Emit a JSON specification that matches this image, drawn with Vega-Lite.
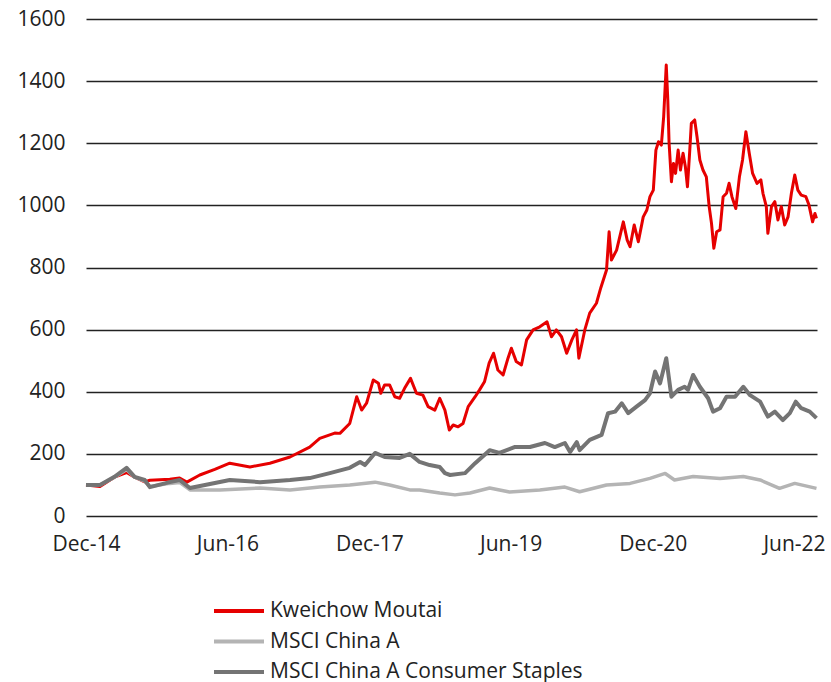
{
  "$schema": "https://vega.github.io/schema/vega-lite/v6.json",
  "width": 731,
  "height": 497,
  "autosize": {"type": "none"},
  "padding": {"left": 86, "top": 19, "right": 14, "bottom": 166},
  "background": "white",
  "config": {
    "view": {"stroke": null},
    "font": "Open Sans",
    "axis": {"labelFont": "Open Sans", "labelFontSize": 21, "labelColor": "#222222", "domain": false, "ticks": false, "tickSize": 0, "title": null},
    "legend": {"labelFont": "Open Sans"}
  },
  "datasets": {
    "moutai": [
      {"date": "2014-12-31", "value": 100}, {"date": "2015-02-23", "value": 95}, {"date": "2015-04-20", "value": 125},
      {"date": "2015-06-06", "value": 140}, {"date": "2015-07-07", "value": 125}, {"date": "2015-08-15", "value": 110},
      {"date": "2015-09-04", "value": 115}, {"date": "2015-11-20", "value": 118}, {"date": "2015-12-28", "value": 122},
      {"date": "2016-01-25", "value": 109}, {"date": "2016-03-15", "value": 132}, {"date": "2016-05-12", "value": 150},
      {"date": "2016-07-09", "value": 170}, {"date": "2016-09-25", "value": 158}, {"date": "2016-12-11", "value": 170},
      {"date": "2017-02-27", "value": 190}, {"date": "2017-05-14", "value": 222}, {"date": "2017-06-22", "value": 250},
      {"date": "2017-08-19", "value": 267}, {"date": "2017-09-08", "value": 266}, {"date": "2017-10-16", "value": 298},
      {"date": "2017-11-12", "value": 384}, {"date": "2017-12-01", "value": 341}, {"date": "2017-12-20", "value": 363},
      {"date": "2018-01-15", "value": 438}, {"date": "2018-02-04", "value": 427}, {"date": "2018-02-13", "value": 395},
      {"date": "2018-02-28", "value": 422}, {"date": "2018-03-19", "value": 422}, {"date": "2018-04-08", "value": 384},
      {"date": "2018-04-27", "value": 379}, {"date": "2018-05-16", "value": 411}, {"date": "2018-06-08", "value": 443},
      {"date": "2018-07-01", "value": 395}, {"date": "2018-07-26", "value": 389}, {"date": "2018-08-15", "value": 352},
      {"date": "2018-09-10", "value": 341}, {"date": "2018-09-29", "value": 379}, {"date": "2018-10-19", "value": 341},
      {"date": "2018-11-05", "value": 277}, {"date": "2018-11-20", "value": 293}, {"date": "2018-12-09", "value": 287},
      {"date": "2018-12-28", "value": 298}, {"date": "2019-01-17", "value": 352}, {"date": "2019-02-13", "value": 384},
      {"date": "2019-03-02", "value": 406}, {"date": "2019-03-21", "value": 432}, {"date": "2019-04-08", "value": 492},
      {"date": "2019-04-25", "value": 524}, {"date": "2019-05-12", "value": 470}, {"date": "2019-06-01", "value": 454},
      {"date": "2019-06-20", "value": 508}, {"date": "2019-07-03", "value": 540}, {"date": "2019-07-22", "value": 497},
      {"date": "2019-08-11", "value": 486}, {"date": "2019-08-31", "value": 567}, {"date": "2019-09-25", "value": 599},
      {"date": "2019-10-21", "value": 609}, {"date": "2019-11-18", "value": 625}, {"date": "2019-12-05", "value": 577},
      {"date": "2019-12-24", "value": 599}, {"date": "2020-01-13", "value": 577}, {"date": "2020-02-02", "value": 524},
      {"date": "2020-02-22", "value": 567}, {"date": "2020-03-11", "value": 599}, {"date": "2020-03-20", "value": 508},
      {"date": "2020-04-12", "value": 599}, {"date": "2020-05-01", "value": 653}, {"date": "2020-05-27", "value": 685},
      {"date": "2020-06-13", "value": 735}, {"date": "2020-07-05", "value": 792}, {"date": "2020-07-15", "value": 915},
      {"date": "2020-07-24", "value": 824}, {"date": "2020-08-13", "value": 856}, {"date": "2020-09-08", "value": 947},
      {"date": "2020-09-23", "value": 888}, {"date": "2020-10-04", "value": 867}, {"date": "2020-10-20", "value": 937},
      {"date": "2020-11-05", "value": 883}, {"date": "2020-11-24", "value": 963}, {"date": "2020-12-08", "value": 985},
      {"date": "2020-12-20", "value": 1028}, {"date": "2021-01-02", "value": 1049}, {"date": "2021-01-12", "value": 1178},
      {"date": "2021-01-22", "value": 1205}, {"date": "2021-02-02", "value": 1194}, {"date": "2021-02-11", "value": 1285},
      {"date": "2021-02-21", "value": 1452}, {"date": "2021-02-27", "value": 1339}, {"date": "2021-03-04", "value": 1200},
      {"date": "2021-03-13", "value": 1076}, {"date": "2021-03-21", "value": 1135}, {"date": "2021-03-29", "value": 1103},
      {"date": "2021-04-08", "value": 1178}, {"date": "2021-04-17", "value": 1114}, {"date": "2021-04-27", "value": 1168},
      {"date": "2021-05-06", "value": 1124}, {"date": "2021-05-14", "value": 1060}, {"date": "2021-05-23", "value": 1178},
      {"date": "2021-05-29", "value": 1264}, {"date": "2021-06-11", "value": 1275}, {"date": "2021-06-20", "value": 1221},
      {"date": "2021-07-01", "value": 1146}, {"date": "2021-07-13", "value": 1114}, {"date": "2021-07-26", "value": 1092},
      {"date": "2021-08-06", "value": 996}, {"date": "2021-08-15", "value": 942}, {"date": "2021-08-24", "value": 862},
      {"date": "2021-09-04", "value": 915}, {"date": "2021-09-17", "value": 921}, {"date": "2021-09-29", "value": 1028},
      {"date": "2021-10-12", "value": 1039}, {"date": "2021-10-22", "value": 1071}, {"date": "2021-11-02", "value": 1028},
      {"date": "2021-11-17", "value": 990}, {"date": "2021-12-01", "value": 1092}, {"date": "2021-12-13", "value": 1146},
      {"date": "2021-12-26", "value": 1237}, {"date": "2022-01-08", "value": 1168}, {"date": "2022-01-21", "value": 1103},
      {"date": "2022-02-07", "value": 1071}, {"date": "2022-02-22", "value": 1082}, {"date": "2022-03-02", "value": 1039},
      {"date": "2022-03-15", "value": 996}, {"date": "2022-03-21", "value": 910}, {"date": "2022-04-04", "value": 996},
      {"date": "2022-04-17", "value": 1012}, {"date": "2022-04-29", "value": 953}, {"date": "2022-05-12", "value": 996},
      {"date": "2022-05-25", "value": 937}, {"date": "2022-06-07", "value": 963}, {"date": "2022-06-20", "value": 1039},
      {"date": "2022-07-03", "value": 1098}, {"date": "2022-07-15", "value": 1049}, {"date": "2022-07-28", "value": 1033},
      {"date": "2022-08-15", "value": 1028}, {"date": "2022-08-27", "value": 1001}, {"date": "2022-09-10", "value": 947},
      {"date": "2022-09-19", "value": 974}, {"date": "2022-09-25", "value": 958}
    ],
    "chinaA": [
      {"date": "2014-12-31", "value": 100}, {"date": "2015-02-23", "value": 100}, {"date": "2015-04-20", "value": 125},
      {"date": "2015-06-06", "value": 150}, {"date": "2015-07-07", "value": 125}, {"date": "2015-08-15", "value": 112},
      {"date": "2015-09-04", "value": 95}, {"date": "2015-11-20", "value": 105}, {"date": "2015-12-28", "value": 108},
      {"date": "2016-02-06", "value": 84}, {"date": "2016-06-01", "value": 84}, {"date": "2016-11-03", "value": 90},
      {"date": "2017-02-27", "value": 84}, {"date": "2017-06-22", "value": 93}, {"date": "2017-10-16", "value": 100},
      {"date": "2018-01-22", "value": 109}, {"date": "2018-03-19", "value": 100}, {"date": "2018-06-05", "value": 84},
      {"date": "2018-07-13", "value": 84}, {"date": "2018-09-29", "value": 74}, {"date": "2018-11-27", "value": 68},
      {"date": "2019-01-24", "value": 74}, {"date": "2019-04-10", "value": 90}, {"date": "2019-06-26", "value": 77},
      {"date": "2019-10-21", "value": 84}, {"date": "2020-01-26", "value": 93}, {"date": "2020-03-23", "value": 78},
      {"date": "2020-07-05", "value": 100}, {"date": "2020-10-04", "value": 105}, {"date": "2020-12-20", "value": 121},
      {"date": "2021-02-17", "value": 137}, {"date": "2021-03-25", "value": 116}, {"date": "2021-06-05", "value": 127},
      {"date": "2021-09-17", "value": 121}, {"date": "2021-12-16", "value": 127}, {"date": "2022-02-19", "value": 116},
      {"date": "2022-05-05", "value": 89}, {"date": "2022-07-03", "value": 105}, {"date": "2022-09-25", "value": 89}
    ],
    "staples": [
      {"date": "2014-12-31", "value": 100}, {"date": "2015-02-23", "value": 100}, {"date": "2015-04-20", "value": 126},
      {"date": "2015-06-06", "value": 155}, {"date": "2015-07-07", "value": 126}, {"date": "2015-08-15", "value": 116},
      {"date": "2015-09-04", "value": 93}, {"date": "2015-11-20", "value": 109}, {"date": "2015-12-28", "value": 116},
      {"date": "2016-02-06", "value": 90}, {"date": "2016-04-04", "value": 100}, {"date": "2016-07-09", "value": 116},
      {"date": "2016-11-03", "value": 109}, {"date": "2017-02-27", "value": 116}, {"date": "2017-05-14", "value": 122},
      {"date": "2017-07-31", "value": 138}, {"date": "2017-10-16", "value": 155}, {"date": "2017-11-25", "value": 174},
      {"date": "2017-12-14", "value": 164}, {"date": "2018-01-22", "value": 203}, {"date": "2018-02-28", "value": 190},
      {"date": "2018-04-27", "value": 187}, {"date": "2018-06-05", "value": 200}, {"date": "2018-07-13", "value": 174},
      {"date": "2018-08-21", "value": 164}, {"date": "2018-09-29", "value": 158}, {"date": "2018-10-19", "value": 138},
      {"date": "2018-11-08", "value": 132}, {"date": "2019-01-05", "value": 138}, {"date": "2019-02-13", "value": 170},
      {"date": "2019-04-10", "value": 212}, {"date": "2019-05-18", "value": 203}, {"date": "2019-07-15", "value": 222},
      {"date": "2019-09-13", "value": 222}, {"date": "2019-11-10", "value": 235}, {"date": "2019-12-18", "value": 222},
      {"date": "2020-01-26", "value": 235}, {"date": "2020-02-15", "value": 206}, {"date": "2020-03-12", "value": 238},
      {"date": "2020-03-23", "value": 212}, {"date": "2020-05-01", "value": 245}, {"date": "2020-06-16", "value": 261},
      {"date": "2020-07-11", "value": 331}, {"date": "2020-08-07", "value": 336}, {"date": "2020-09-02", "value": 363},
      {"date": "2020-09-27", "value": 331}, {"date": "2020-10-29", "value": 352}, {"date": "2020-12-01", "value": 373},
      {"date": "2020-12-20", "value": 395}, {"date": "2021-01-09", "value": 465}, {"date": "2021-01-28", "value": 427},
      {"date": "2021-02-21", "value": 508}, {"date": "2021-03-13", "value": 384}, {"date": "2021-04-08", "value": 406},
      {"date": "2021-05-03", "value": 416}, {"date": "2021-05-16", "value": 406}, {"date": "2021-06-05", "value": 454},
      {"date": "2021-07-01", "value": 416}, {"date": "2021-08-02", "value": 379}, {"date": "2021-08-21", "value": 336},
      {"date": "2021-09-17", "value": 347}, {"date": "2021-10-12", "value": 384}, {"date": "2021-11-14", "value": 384},
      {"date": "2021-12-16", "value": 416}, {"date": "2022-01-11", "value": 389}, {"date": "2022-02-19", "value": 368},
      {"date": "2022-03-21", "value": 320}, {"date": "2022-04-17", "value": 336}, {"date": "2022-05-18", "value": 309},
      {"date": "2022-06-14", "value": 331}, {"date": "2022-07-07", "value": 368}, {"date": "2022-07-28", "value": 347},
      {"date": "2022-08-30", "value": 336}, {"date": "2022-09-25", "value": 315}
    ]
  },
  "encoding": {
    "x": {
      "field": "date",
      "type": "temporal",
      "scale": {"type": "utc", "domain": [{"year": 2014, "month": 12, "date": 31, "utc": true}, {"year": 2022, "month": 9, "date": 27, "utc": true}]},
      "axis": {
        "values": [
          {"year": 2014, "month": 12, "date": 31, "utc": true},
          {"year": 2016, "month": 6, "date": 30, "utc": true},
          {"year": 2017, "month": 12, "date": 31, "utc": true},
          {"year": 2019, "month": 6, "date": 30, "utc": true},
          {"year": 2020, "month": 12, "date": 31, "utc": true},
          {"year": 2022, "month": 6, "date": 30, "utc": true}
        ],
        "format": "%b-%y",
        "grid": false,
        "labelPadding": 17,
        "labelFlush": false,
        "labelOverlap": false
      }
    },
    "y": {
      "field": "value",
      "type": "quantitative",
      "scale": {"domain": [0, 1600], "nice": false},
      "axis": {
        "values": [0, 200, 400, 600, 800, 1000, 1200, 1400, 1600],
        "format": "d",
        "grid": true,
        "gridColor": "#222222",
        "gridWidth": 1.5,
        "gridOpacity": 1,
        "labelPadding": 21,
        "labelBaseline": "middle"
      }
    }
  },
  "layer": [
    {
      "data": {"name": "moutai"},
      "mark": {"type": "line", "strokeWidth": 3, "strokeJoin": "round"},
      "encoding": {
        "color": {
          "datum": "Kweichow Moutai",
          "type": "nominal",
          "scale": {"domain": ["Kweichow Moutai", "MSCI China A", "MSCI China A Consumer Staples"], "range": ["#e60000", "#b4b4b4", "#747474"]},
          "legend": {
            "orient": "none",
            "legendX": 141,
            "legendY": 580,
            "direction": "vertical",
            "title": null,
            "symbolType": "M-2.5,0H2.5",
            "symbolSize": 400,
            "symbolStrokeWidth": 4,
            "labelFontSize": 21,
            "labelColor": "#222222",
            "labelOffset": 19,
            "rowPadding": 8.5,
            "labelLimit": 500
          }
        }
      }
    },
    {
      "data": {"name": "chinaA"},
      "mark": {"type": "line", "strokeWidth": 3.5, "strokeJoin": "round"},
      "encoding": {"color": {"datum": "MSCI China A", "type": "nominal"}}
    },
    {
      "data": {"name": "staples"},
      "mark": {"type": "line", "strokeWidth": 4, "strokeJoin": "round"},
      "encoding": {"color": {"datum": "MSCI China A Consumer Staples", "type": "nominal"}}
    }
  ]
}
